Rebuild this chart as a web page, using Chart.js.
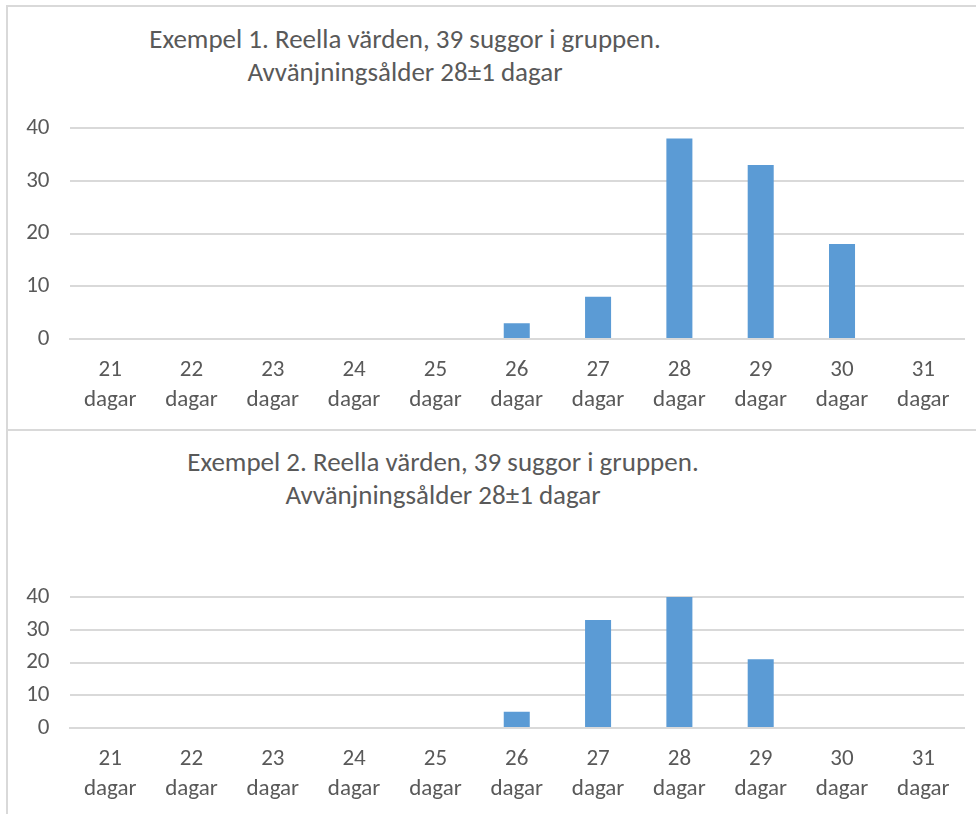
<!DOCTYPE html>
<html>
<head>
<meta charset="utf-8">
<script src="https://cdn.jsdelivr.net/npm/chart.js@4.4.1/dist/chart.umd.min.js"></script>
<style>
  html, body { margin: 0; padding: 0; background: #fff; overflow: hidden; }
  body { width: 976px; height: 814px; position: relative; }
  .frame { position: absolute; left: 6px; border-left: 2px solid #d9d9d9; border-top: 2px solid #d9d9d9; width: 1000px; }
  .title {
    position: absolute; left: 0; text-align: center; color: #595959;
    font-family: Carlito, "Liberation Sans Narrow", "Open Sans", sans-serif;
    font-size: 27px; line-height: 33px; white-space: nowrap;
  }
  canvas { position: absolute; left: 0; }
</style>
</head>
<body>
<div class="frame" style="top:5px;height:424px;"></div>
<div class="frame" style="top:429px;height:400px;"></div>

<div class="title" id="t1" style="top:22px;width:810px;"></div>
<div class="title" id="t2" style="top:445px;width:886px;"></div>

<div style="position:absolute;left:0;top:0;width:1010px;height:430px;"><canvas id="c1"></canvas></div>
<div style="position:absolute;left:0;top:430px;width:1010px;height:384px;"><canvas id="c2"></canvas></div>

<script>
// Weaning age in days and share of sows per day
const dayNumbers = [21, 22, 23, 24, 25, 26, 27, 28, 29, 30, 31];
const dayUnit = 'dagar';
const example1 = [0, 0, 0, 0, 0, 3, 8, 38, 33, 18, 0];
const example2 = [0, 0, 0, 0, 0, 5, 33, 40, 21, 0, 0];
const yTicks = [0, 10, 20, 30, 40];
const title1 = ['Exempel 1. Reella värden, 39 suggor i gruppen.', 'Avvänjningsålder 28±1 dagar'];
const title2 = ['Exempel 2. Reella värden, 39 suggor i gruppen.', 'Avvänjningsålder 28±1 dagar'];

document.getElementById('t1').innerHTML = title1.join('<br>');
document.getElementById('t2').innerHTML = title2.join('<br>');

const labels = dayNumbers.map(d => [String(d), dayUnit]);
const FONT = 'Carlito, "Liberation Sans Narrow", "Open Sans", sans-serif';
const TEXT = '#595959';
const GRID = '#d9d9d9';

function makeChart(id, values, areaTop, axisHeight) {
  return new Chart(document.getElementById(id), {
    type: 'bar',
    data: {
      labels: labels,
      datasets: [{
        data: values,
        backgroundColor: '#5b9bd5',
        borderWidth: 0,
        barPercentage: 1,
        categoryPercentage: 0.32
      }]
    },
    options: {
      responsive: true,
      maintainAspectRatio: false,
      animation: false,
      events: [],
      layout: { padding: { top: areaTop, left: 0, right: 46, bottom: 0 } },
      plugins: { legend: { display: false }, title: { display: false }, tooltip: { enabled: false } },
      scales: {
        x: {
          grid: { display: false },
          border: { display: true, color: GRID, width: 2 },
          ticks: {
            color: TEXT, padding: 9, maxRotation: 0, autoSkip: false,
            font: { family: FONT, size: 23, lineHeight: 1.28 }
          },
          afterFit: s => { s.height = axisHeight; }
        },
        y: {
          min: 0, max: 40,
          afterBuildTicks: s => { s.ticks = yTicks.map(v => ({ value: v })); },
          grid: { color: GRID, lineWidth: 2, drawTicks: false },
          border: { display: false },
          ticks: {
            color: TEXT, padding: 20,
            font: { family: FONT, size: 23 }
          },
          afterFit: s => { s.width = 69.5; }
        }
      }
    }
  });
}

makeChart('c1', example1, 128, 91);
makeChart('c2', example2, 167, 86);
</script>
</body>
</html>
